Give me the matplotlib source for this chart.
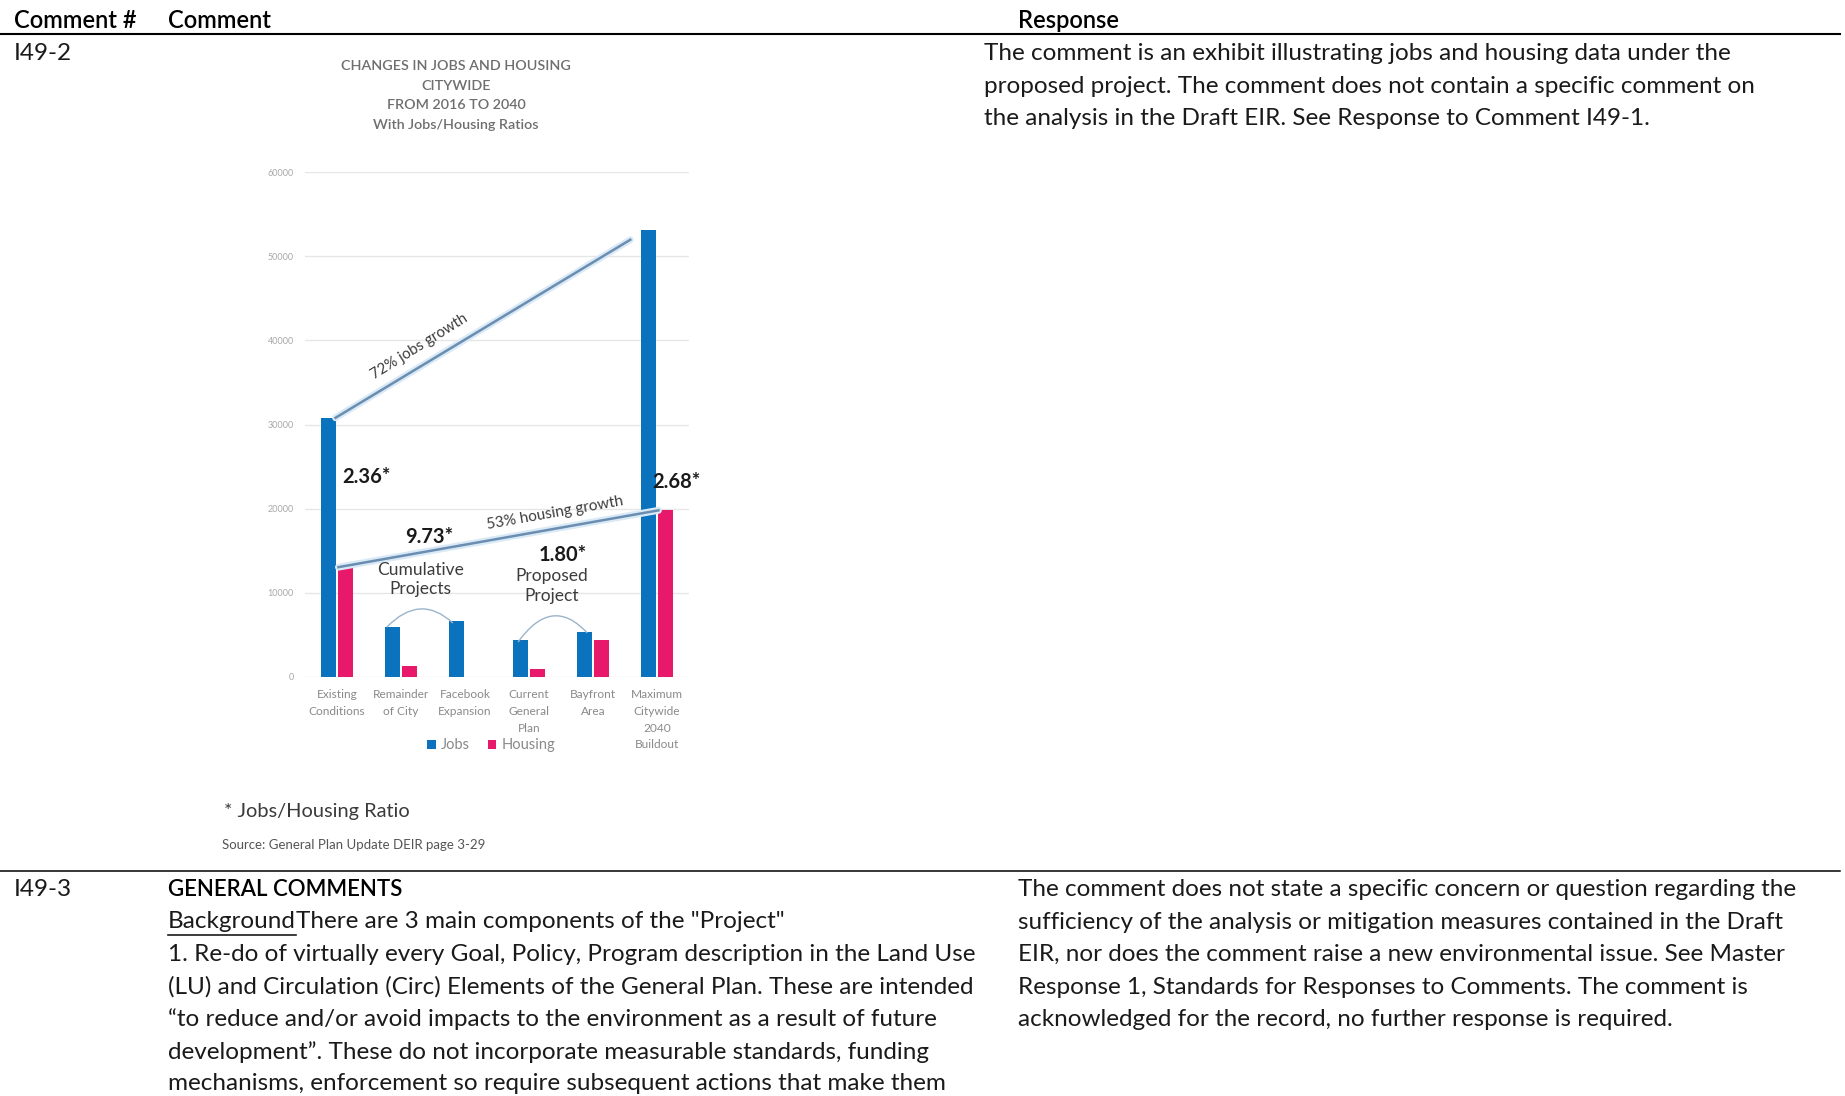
import matplotlib
matplotlib.use("Agg")
import matplotlib.pyplot as plt
from matplotlib.path import Path
from matplotlib.patches import PathPatch

plt.rcParams['font.family'] = ['Lato', 'DejaVu Sans']

# chart data
categories = ["Existing\nConditions", "Remainder\nof City", "Facebook\nExpansion",
              "Current\nGeneral\nPlan", "Bayfront\nArea", "Maximum\nCitywide\n2040\nBuildout"]
jobs = [30800, 5900, 6600, 4400, 5300, 53100]
housing = [13050, 1300, 0, 900, 4400, 19800]
ratio_labels = ["2.36*", "9.73*", "1.80*", "2.68*"]
yticks = [0, 10000, 20000, 30000, 40000, 50000, 60000]

chart_title = ["CHANGES IN JOBS AND HOUSING", "CITYWIDE", "FROM 2016 TO 2040",
               "With Jobs/Housing Ratios"]

response_1 = ["The comment is an exhibit illustrating jobs and housing data under the",
              "proposed project. The comment does not contain a specific comment on",
              "the analysis in the Draft EIR. See Response to Comment I49-1."]
comment_2 = ["1. Re-do of virtually every Goal, Policy, Program description in the Land Use",
             "(LU) and Circulation (Circ) Elements of the General Plan. These are intended",
             "\u201cto reduce and/or avoid impacts to the environment as a result of future",
             "development\u201d. These do not incorporate measurable standards, funding",
             "mechanisms, enforcement so require subsequent actions that make them"]
response_2 = ["The comment does not state a specific concern or question regarding the",
              "sufficiency of the analysis or mitigation measures contained in the Draft",
              "EIR, nor does the comment raise a new environmental issue. See Master",
              "Response 1, Standards for Responses to Comments. The comment is",
              "acknowledged for the record, no further response is required."]

W, H = 1845, 1096
fig = plt.figure(figsize=(W / 100, H / 100), dpi=100)
fig.patch.set_facecolor("white")

# page layer in pixel coordinates
page = fig.add_axes([0, 0, 1, 1])
page.set_xlim(0, W)
page.set_ylim(H, 0)
page.axis("off")

TXT = "#1a1a1a"
body = 17.5
step = 32.4
page.text(14, 20, "Comment #", fontsize=17, color="black", va="center", fontweight="semibold")
page.text(168, 20, "Comment", fontsize=17, color="black", va="center", fontweight="semibold")
page.text(1018, 20, "Response", fontsize=17, color="black", va="center", fontweight="semibold")
page.plot([0, 1840], [34, 34], color="black", lw=1.5)
page.plot([0, 1840], [871, 871], color="black", lw=1.1)

page.text(14, 54, "I49-2", fontsize=body, color=TXT, va="center")
for i, line in enumerate(response_1):
    page.text(984, 54 + i * step, line, fontsize=body, color=TXT, va="center")

page.text(14, 890, "I49-3", fontsize=body, color=TXT, va="center")
page.text(168, 890, "GENERAL COMMENTS", fontsize=16, color="black", va="center",
          fontweight="semibold")
bg = page.text(168, 922, "Background", fontsize=body, color=TXT, va="center")
fig.canvas.draw()
bb = bg.get_window_extent()
bx1 = 168 + bb.width
page.plot([168, bx1], [935, 935], color=TXT, lw=1.2)
page.text(bx1, 922, "There are 3 main components of the \"Project\"", fontsize=body,
          color=TXT, va="center")
for i, line in enumerate(comment_2):
    page.text(168, 922 + (i + 1) * step, line, fontsize=body, color=TXT, va="center")
for i, line in enumerate(response_2):
    page.text(1018, 890 + i * step, line, fontsize=body, color=TXT, va="center")

# embedded chart
for i, line in enumerate(chart_title):
    page.text(456, 66 + i * 19.7, line, fontsize=10.3, color="#6e6e6e", ha="center",
              va="center", fontweight="semibold")
page.text(224, 811, "* Jobs/Housing Ratio", fontsize=14.4, color="#3a3a3a", va="center")
page.text(222, 845, "Source: General Plan Update DEIR page 3-29", fontsize=9.5,
          color="#555555", va="center")

ax = fig.add_axes([305 / W, 1 - 677 / H, 384 / W, 505 / H])
ax.set_xlim(-0.5, 5.5)
ax.set_ylim(0, 60000)
for s in ax.spines.values():
    s.set_visible(False)
ax.set_yticks(yticks)
ax.set_yticklabels([str(v) for v in yticks], fontsize=6.5, color="#a8a8a8")
ax.yaxis.grid(True, color="#e6e6e6", lw=1)
ax.set_axisbelow(True)
ax.tick_params(length=0)
ax.tick_params(axis="y", pad=8)
ax.set_xticks(range(len(categories)))
ax.set_xticklabels(categories, fontsize=8.6, color="#8a8a8a", linespacing=1.65)
ax.tick_params(axis="x", pad=8.5)

blue = "#0b72bd"
pink = "#e8196b"
w, off = 0.235, 0.14
x = list(range(len(categories)))
ax.bar([i - off for i in x], jobs, width=w, color=blue, label="Jobs")
ax.bar([i + off for i in x], housing, width=w, color=pink, label="Housing")

# growth lines
jx0, jy0 = 0 - off + w / 2, jobs[0]
jx_top = 5 - off - w / 2
jx1 = jx_top - 0.16
jy1 = jy0 + (jobs[5] - jy0) * (jx1 - jx0) / (jx_top - jx0) - 400
hx0, hy0 = 0 + off - w / 2, housing[0]
hx1, hy1 = 5 + off - w / 2, housing[5]
for (xa, ya, xb, yb) in [(jx0, jy0, jx1, jy1), (hx0, hy0, hx1, hy1)]:
    ax.plot([xa, xb], [ya, yb], color="#d9eaf6", lw=5, solid_capstyle="round", zorder=3)
    ax.plot([xa, xb], [ya, yb], color="#6a8db1", lw=1.8, zorder=4)

ax.text(1.28, 39300, "72% jobs growth", rotation=32, fontsize=10.8, color="#3c3c3c",
        ha="center", va="center")
ax.text(3.41, 19480, "53% housing growth", rotation=10, fontsize=11, color="#3c3c3c",
        ha="center", va="center")

# ratio labels
rkw = dict(fontsize=14.5, fontweight="bold", color="#1a1a1a", va="center")
ax.text(0.08, 23750, ratio_labels[0], ha="left", **rkw)
ax.text(1.44, 16630, ratio_labels[1], ha="center", **rkw)
ax.text(3.53, 14490, ratio_labels[2], ha="center", **rkw)
ax.text(4.92, 23160, ratio_labels[3], ha="left", clip_on=False, **rkw)

ax.text(1.30, 11580, "Cumulative\nProjects", fontsize=12.5, color="#3c3c3c",
        ha="center", va="center", linespacing=1.3)
ax.text(3.36, 10810, "Proposed\nProject", fontsize=12.5, color="#3c3c3c",
        ha="center", va="center", linespacing=1.3)

# bracket arcs over grouped bars
for (p0, c, p1) in [((0.78, 5940), (1.30, 10000), (1.81, 6410)),
                    ((2.83, 4160), (3.36, 9800), (3.91, 5230))]:
    arc = Path([p0, c, p1], [Path.MOVETO, Path.CURVE3, Path.CURVE3])
    ax.add_patch(PathPatch(arc, fill=False, edgecolor="#9ab4cb", lw=1.0, zorder=3))

leg = ax.legend(loc="upper center", bbox_to_anchor=(0.485, -0.11), ncol=2, frameon=False,
                fontsize=10.5, handlelength=0.6, handleheight=0.6, handletextpad=0.35,
                columnspacing=1.2, borderaxespad=0)
for t in leg.get_texts():
    t.set_color("#8a8a8a")

fig.savefig("out.png", dpi=100, facecolor="white")
